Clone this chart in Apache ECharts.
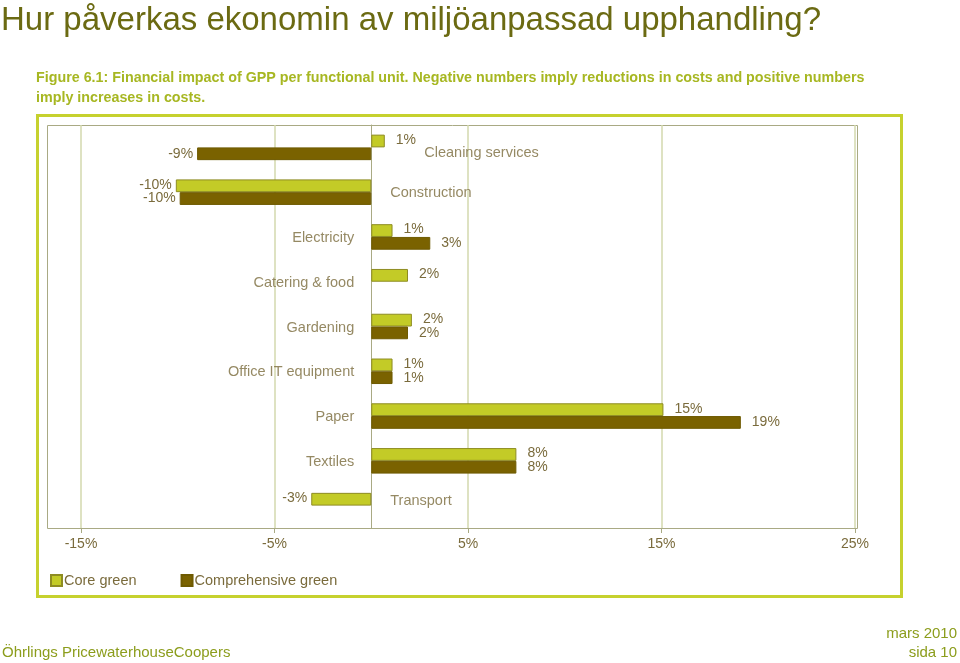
<!DOCTYPE html>
<html><head><meta charset="utf-8">
<script src="https://cdn.jsdelivr.net/npm/echarts@6/dist/echarts.min.js"></script>
<style>html,body{margin:0;padding:0;background:#fff}#c{width:960px;height:663px}</style>
</head><body><div id="c"></div>
<script>
const categories = ['Cleaning services','Construction','Electricity','Catering & food','Gardening','Office IT equipment','Paper','Textiles','Transport'];
const coreGreen = [0.7, -10.1, 1.1, 1.9, 2.1, 1.1, 15.1, 7.5, -3.1];
const comprehensiveGreen = [-9.0, -9.9, 3.05, null, 1.9, 1.1, 19.1, 7.5, null];
const xTickValues = [-15, -5, 5, 15, 25];
const seriesNames = ['Core green', 'Comprehensive green'];

const TXT = '#7a6b3c';
const SANS = '"Liberation Sans",Arial,sans-serif';

function barData(vals) {
  return vals.map(v => v == null ? null : ({
    value: v,
    label: v < 0 ? { position: 'left', distance: 4 } : { position: 'right', distance: 11 }
  }));
}

const catLabelData = categories.map((c, i) => {
  const hasNeg = (coreGreen[i] != null && coreGreen[i] < 0) || (comprehensiveGreen[i] != null && comprehensiveGreen[i] < 0);
  const hasPos = (coreGreen[i] != null && coreGreen[i] > 0) || (comprehensiveGreen[i] != null && comprehensiveGreen[i] > 0);
  let label;
  if (hasNeg && hasPos) label = { position: 'right', distance: 53, offset: [0, 6] };
  else if (hasNeg) label = { position: 'right', distance: 19, offset: [0, i === categories.length - 1 ? -5 : 1] };
  else label = { position: 'left', distance: 17, offset: [0, 1] };
  return { value: [0, c], label };
});

const chart = echarts.init(document.getElementById('c'), null, { renderer: 'canvas' });
chart.setOption({
  animation: false,
  backgroundColor: '#fff',
  title: {
    text: 'Hur påverkas ekonomin av miljöanpassad upphandling?',
    left: 1, top: 4, padding: 0,
    textStyle: { fontFamily: SANS, fontSize: 33, fontWeight: 'normal', color: '#6b6a12' }
  },
  graphic: [
    { type: 'text', x: 36, y: 70, scaleX: 0.953, style: { text: 'Figure 6.1: Financial impact of GPP per functional unit. Negative numbers imply reductions in costs and positive numbers', font: 'bold 15px ' + SANS, fill: '#a7b722' } },
    { type: 'text', x: 36, y: 90, scaleX: 0.953, style: { text: 'imply increases in costs.', font: 'bold 15px ' + SANS, fill: '#a7b722' } },
    { type: 'rect', shape: { x: 37.5, y: 115.5, width: 864, height: 481 }, style: { fill: 'none', stroke: '#c6d12e', lineWidth: 3 }, z: -1 },
    { type: 'rect', shape: { x: 47.5, y: 125.5, width: 810, height: 403 }, style: { fill: 'none', stroke: '#a9aa84', lineWidth: 1 }, z: -1 },
    { type: 'text', left: 2, top: 645, style: { text: 'Öhrlings PricewaterhouseCoopers', font: '15px ' + SANS, fill: '#8c9d1c' } },
    { type: 'text', right: 3, top: 626, style: { text: 'mars 2010', font: '15px ' + SANS, fill: '#8c9d1c' } },
    { type: 'text', right: 3, top: 645, style: { text: 'sida 10', font: '15px ' + SANS, fill: '#8c9d1c' } }
  ],
  legend: {
    data: seriesNames,
    left: 50, top: 573, padding: 0,
    icon: 'rect', itemWidth: 11, itemHeight: 11, itemGap: 44,
    textStyle: { fontFamily: SANS, fontSize: 14.5, color: TXT, padding: [0, 0, 0, -3] }
  },
  grid: { left: 81, right: 105, top: 125, bottom: 135, containLabel: false },
  xAxis: {
    type: 'value',
    min: xTickValues[0], max: xTickValues[xTickValues.length - 1],
    interval: xTickValues[1] - xTickValues[0],
    axisLine: { show: true, lineStyle: { color: '#a9aa84' } },
    axisTick: { show: true, length: 5, lineStyle: { color: '#a9aa84' } },
    axisLabel: { formatter: v => v + '%', color: TXT, fontFamily: SANS, fontSize: 14, margin: 9 },
    splitLine: { show: true, lineStyle: { color: '#d3d9ae', width: 1.5 } }
  },
  yAxis: {
    type: 'category', data: categories, inverse: true,
    axisLine: { show: true, onZero: true, lineStyle: { color: '#a9aa84' } },
    axisTick: { show: false }, axisLabel: { show: false }, splitLine: { show: false }
  },
  series: [
    {
      name: seriesNames[0], type: 'bar', data: barData(coreGreen),
      barGap: '0%', barCategoryGap: '43%',
      itemStyle: { color: '#c3cb27', borderColor: '#8e8c22', borderWidth: 1 },
      label: { show: true, formatter: p => Math.round(p.value) + '%', color: TXT, fontFamily: SANS, fontSize: 14, offset: [0, -1] }
    },
    {
      name: seriesNames[1], type: 'bar', data: barData(comprehensiveGreen),
      barGap: '0%', barCategoryGap: '43%',
      itemStyle: { color: '#7a6200', borderColor: '#6e5a00', borderWidth: 1 },
      label: { show: true, formatter: p => Math.round(p.value) + '%', color: TXT, fontFamily: SANS, fontSize: 14 }
    },
    {
      name: 'categoryLabels', type: 'scatter', data: catLabelData,
      symbolSize: 0, silent: true, z: 5,
      label: { show: true, formatter: p => p.value[1], color: TXT, fontFamily: SANS, fontSize: 14.5 }
    }
  ]
});
</script></body></html>
